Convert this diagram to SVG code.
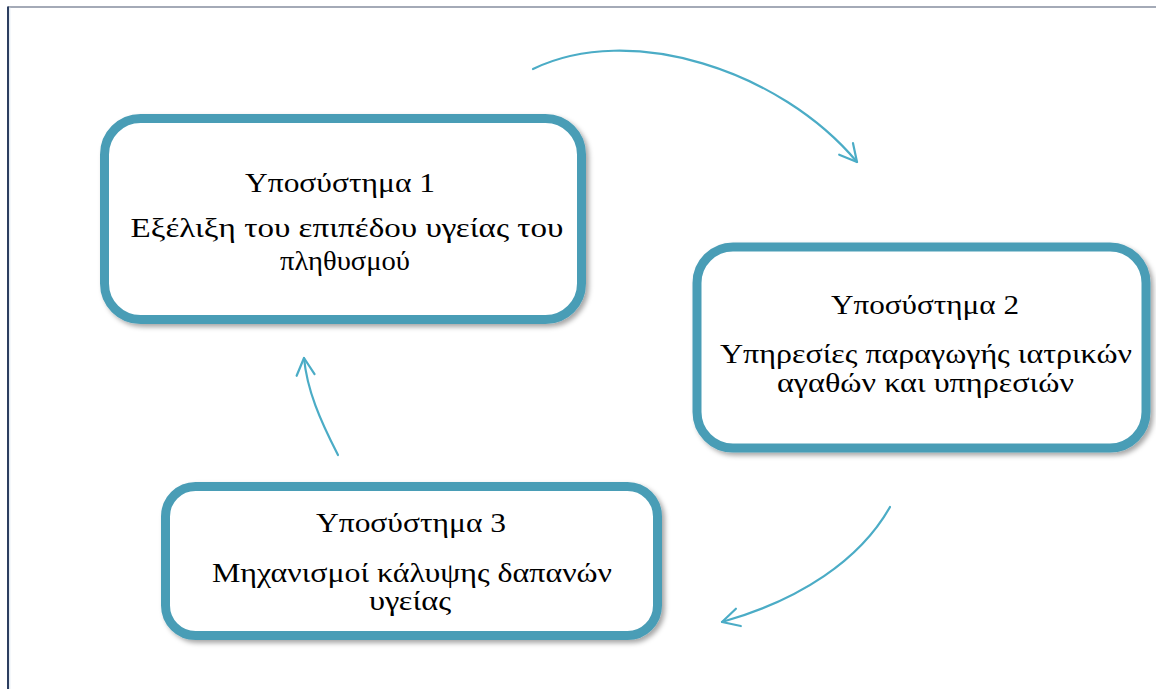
<svg xmlns="http://www.w3.org/2000/svg" width="1156" height="689" viewBox="0 0 1156 689">
<defs>
<style>
.box{fill:#fff;stroke:#4a9db6;stroke-width:9;}
.t{font-family:"Liberation Serif","Times New Roman",serif;font-size:28px;fill:#000;text-anchor:middle;}
.arr{fill:none;stroke:#4bacc6;stroke-width:2.2;stroke-linecap:round;}
</style>
<filter id="sh" x="-10%" y="-10%" width="125%" height="130%">
<feDropShadow dx="3" dy="3" stdDeviation="2.5" flood-color="#000" flood-opacity="0.35"/>
</filter>
<marker id="ah" markerUnits="userSpaceOnUse" orient="auto" refX="0" refY="0" markerWidth="40" markerHeight="40" viewBox="-20 -20 40 40" overflow="visible">
<path d="M-17,-9 L0,0 L-17,9" fill="none" stroke="#4bacc6" stroke-width="2.2" stroke-linecap="round" stroke-linejoin="round"/>
</marker>
</defs>
<rect width="1156" height="689" fill="#fff"/>
<line x1="8" y1="7" x2="1156" y2="7" stroke="#4a5670" stroke-width="1.2"/>
<line x1="8" y1="6.5" x2="8" y2="689" stroke="#2c3e60" stroke-width="2"/>
<line x1="9.8" y1="7.5" x2="9.8" y2="689" stroke="#dce6f0" stroke-width="1"/>

<g id="connectors">
<path class="arr" d="M533,69 C630,22 780,70 857,162" marker-end="url(#ah)"/>
<path class="arr" d="M890,507 C860,560 800,600 722,622" marker-end="url(#ah)"/>
<path class="arr" d="M338,455 C320,420 307,390 304,358" marker-end="url(#ah)"/>
</g>

<g id="node1">
<rect class="box" filter="url(#sh)" x="104.5" y="118.5" width="477" height="201" rx="36"/>
<text class="t" x="340" y="192" textLength="190" lengthAdjust="spacingAndGlyphs">Υποσύστημα 1</text>
<text class="t" x="347" y="237" textLength="433" lengthAdjust="spacingAndGlyphs">Εξέλιξη του επιπέδου υγείας του</text>
<text class="t" x="345" y="270" textLength="130" lengthAdjust="spacingAndGlyphs">πληθυσμού</text>
</g>

<g id="node2">
<rect class="box" filter="url(#sh)" x="697" y="247" width="449" height="201" rx="36"/>
<text class="t" x="925" y="314" textLength="188" lengthAdjust="spacingAndGlyphs">Υποσύστημα 2</text>
<text class="t" x="926" y="363" textLength="412" lengthAdjust="spacingAndGlyphs">Υπηρεσίες παραγωγής ιατρικών</text>
<text class="t" x="925.5" y="392" textLength="297" lengthAdjust="spacingAndGlyphs">αγαθών και υπηρεσιών</text>
</g>

<g id="node3">
<rect class="box" filter="url(#sh)" x="165.5" y="486.5" width="492" height="149" rx="30"/>
<text class="t" x="411" y="532" textLength="190" lengthAdjust="spacingAndGlyphs">Υποσύστημα 3</text>
<text class="t" x="412" y="582" textLength="400" lengthAdjust="spacingAndGlyphs">Μηχανισμοί κάλυψης δαπανών</text>
<text class="t" x="410" y="610" textLength="82" lengthAdjust="spacingAndGlyphs">υγείας</text>
</g>
</svg>
